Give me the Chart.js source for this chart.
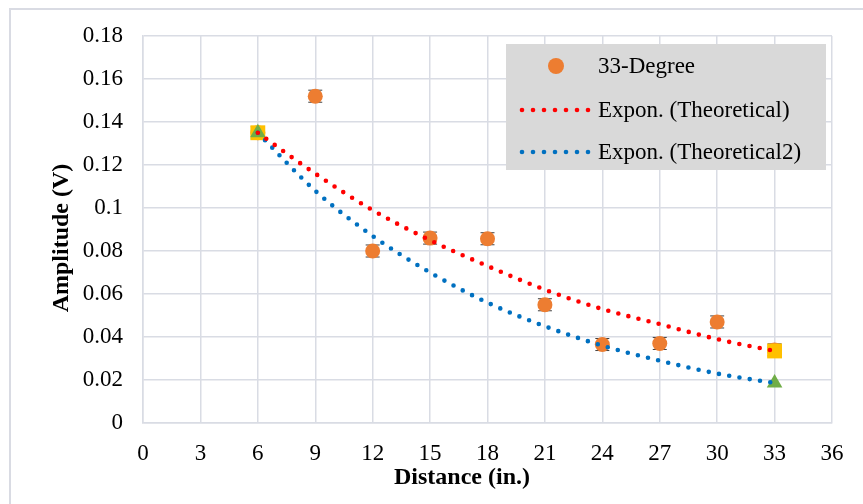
<!DOCTYPE html>
<html lang="en">
<head>
    <meta charset="UTF-8">
    <title>33-Degree Amplitude vs Distance</title>
    <script src="https://cdn.jsdelivr.net/npm/chart.js"></script>
    <style>
        body { margin: 0; background: #fff; }
        #wrap { position: relative; width: 863px; height: 504px; }
        #frame { position: absolute; left: 9px; top: 8px; right: -10px; bottom: -10px;
                 border-left: 2px solid #d9dbe3; border-top: 2px solid #d9dbe3; pointer-events: none; }
    </style>
</head>
<body>
    <div id="wrap">
        <canvas id="ampChart" width="863" height="504"></canvas>
        <div id="frame"></div>
    </div>

    <script>
        // distances (in.)
        const distances = [6, 9, 12, 15, 18, 21, 24, 27, 30, 33];
        // measured 33-degree amplitudes (V)
        const measured = [0.135, 0.152, 0.080, 0.086, 0.0857, 0.055, 0.0365, 0.037, 0.047, 0.034];
        const errBar = [0.0028, 0.0028, 0.0028, 0.0028, 0.0028, 0.0028, 0.0028, 0.0028, 0.0028, 0.0028];
        // exponential trend lines
        const theoretical = [0.135, 0.116, 0.099, 0.085, 0.073, 0.062, 0.053, 0.046, 0.039, 0.0335];
        const theoretical2 = [0.135, 0.108, 0.087, 0.070, 0.056, 0.045, 0.036, 0.029, 0.023, 0.0186];
        // end points of each series
        const endX = [6, 33];
        const endTheo = [0.135, 0.0335];
        const endTheo2 = [0.135, 0.0186];

        const xTitle = 'Distance (in.)';
        const yTitle = 'Amplitude (V)';

        const pts = (xs, ys) => xs.map((x, i) => ({ x: x, y: ys[i] }));
        const serif = "'Liberation Serif', 'Times New Roman', serif";

        // small capped error bars under the circles
        const errorBars = {
            id: 'errorBars',
            beforeDatasetsDraw(chart) {
                const { ctx, scales: { x, y } } = chart;
                ctx.save();
                ctx.strokeStyle = '#404040';
                ctx.lineWidth = 1;
                distances.forEach((d, i) => {
                    const px = x.getPixelForValue(d);
                    const top = y.getPixelForValue(measured[i] + errBar[i]);
                    const bot = y.getPixelForValue(measured[i] - errBar[i]);
                    ctx.beginPath();
                    ctx.moveTo(px, top); ctx.lineTo(px, bot);
                    ctx.moveTo(px - 7, top); ctx.lineTo(px + 7, top);
                    ctx.moveTo(px - 7, bot); ctx.lineTo(px + 7, bot);
                    ctx.stroke();
                });
                ctx.restore();
            }
        };

        // axis titles (placed like the original, slightly off-centre)
        const axisTitles = {
            id: 'axisTitles',
            afterDraw(chart) {
                const ctx = chart.ctx;
                ctx.save();
                ctx.font = 'bold 24px ' + serif;
                ctx.fillStyle = '#000';
                ctx.textAlign = 'center';
                ctx.textBaseline = 'middle';
                ctx.fillText(xTitle, 462, 478);
                ctx.translate(62, 238);
                ctx.rotate(-Math.PI / 2);
                ctx.fillText(yTitle, 0, 0);
                ctx.restore();
            }
        };

        // legend box drawn inside the plot
        const boxLegend = {
            id: 'boxLegend',
            afterDraw(chart) {
                const ctx = chart.ctx;
                const ds = chart.data.datasets;
                ctx.save();
                ctx.fillStyle = '#d9d9d9';
                ctx.fillRect(506, 44, 320, 126);
                ctx.font = '23px ' + serif;
                ctx.fillStyle = '#000';
                ctx.textBaseline = 'middle';
                const rows = [
                    { ds: ds[4], y: 66 },
                    { ds: ds[0], y: 110 },
                    { ds: ds[1], y: 152 }
                ];
                rows.forEach(r => {
                    if (r.ds.showLine) {
                        ctx.fillStyle = r.ds.borderColor;
                        for (let i = 0; i < 7; i++) {
                            ctx.beginPath();
                            ctx.arc(522 + i * 11, r.y, 2.3, 0, Math.PI * 2);
                            ctx.fill();
                        }
                    } else {
                        ctx.fillStyle = r.ds.backgroundColor;
                        ctx.beginPath();
                        ctx.arc(556, r.y, 8, 0, Math.PI * 2);
                        ctx.fill();
                    }
                    ctx.fillStyle = '#000';
                    ctx.fillText(r.ds.label, 598, r.y + 1);
                });
                ctx.restore();
            }
        };

        const ctx = document.getElementById('ampChart').getContext('2d');
        new Chart(ctx, {
            type: 'scatter',
            data: {
                datasets: [
                    {
                        label: 'Expon. (Theoretical)',
                        data: pts(distances, theoretical),
                        showLine: true,
                        borderColor: '#ff0000',
                        borderWidth: 4.6,
                        borderDash: [0, 10.4],
                        borderCapStyle: 'round',
                        cubicInterpolationMode: 'monotone',
                        pointRadius: 0
                    },
                    {
                        label: 'Expon. (Theoretical2)',
                        data: pts(distances, theoretical2),
                        showLine: true,
                        borderColor: '#0070c0',
                        borderWidth: 4.6,
                        borderDash: [0, 10.4],
                        borderCapStyle: 'round',
                        cubicInterpolationMode: 'monotone',
                        pointRadius: 0
                    },
                    {
                        label: 'Theoretical2',
                        data: pts(endX, endTheo2),
                        pointStyle: 'triangle',
                        pointRadius: 9,
                        backgroundColor: '#70ad47',
                        borderColor: '#70ad47',
                        borderWidth: 0
                    },
                    {
                        label: 'Theoretical',
                        data: pts(endX, endTheo),
                        pointStyle: 'rect',
                        pointRadius: 10.5,
                        backgroundColor: '#ffc000',
                        borderColor: '#ffc000',
                        borderWidth: 0
                    },
                    {
                        label: '33-Degree',
                        data: pts(distances, measured),
                        pointRadius: 7.5,
                        backgroundColor: '#ed7d31',
                        borderColor: '#ed7d31',
                        borderWidth: 0
                    }
                ]
            },
            options: {
                responsive: false,
                animation: false,
                layout: { padding: { left: 0, top: 36, right: 31, bottom: 0 } },
                plugins: {
                    legend: { display: false },
                    tooltip: { enabled: false }
                },
                scales: {
                    x: {
                        type: 'linear',
                        min: 0,
                        max: 36,
                        afterFit: s => { s.height = 81; },
                        ticks: { stepSize: 3, padding: 17, color: '#000', font: { family: serif, size: 23 } },
                        grid: { color: '#d9dce4', lineWidth: 1.5, drawTicks: false },
                        border: { color: '#d9dce4', width: 1.5 }
                    },
                    y: {
                        min: 0,
                        max: 0.18,
                        afterFit: s => { s.width = 143; },
                        ticks: {
                            stepSize: 0.02,
                            padding: 20,
                            color: '#000',
                            font: { family: serif, size: 23 },
                            callback: v => String(parseFloat(v.toFixed(2)))
                        },
                        grid: { color: '#d9dce4', lineWidth: 1.5, drawTicks: false },
                        border: { color: '#d9dce4', width: 1.5 }
                    }
                }
            },
            plugins: [errorBars, axisTitles, boxLegend]
        });
    </script>
</body>
</html>
